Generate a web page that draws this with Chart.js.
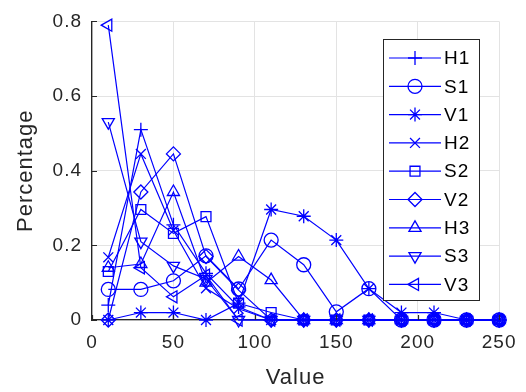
<!DOCTYPE html>
<html>
<head>
<meta charset="utf-8">
<script src="https://cdn.jsdelivr.net/npm/chart.js@4/dist/chart.umd.min.js"></script>
<style>
body{margin:0;background:#fff;}
</style>
</head>
<body>
<canvas id="myChart" width="526" height="392"></canvas>
<script>
// x positions (Value) shared by all series
var xValues = [10, 30, 50, 70, 90, 110, 130, 150, 170, 190, 210, 230, 250];
var xTicks = [0, 50, 100, 150, 200, 250];
var yTicks = [0, 0.2, 0.4, 0.6, 0.8];

var seriesNames = ["H1", "S1", "V1", "H2", "S2", "V2", "H3", "S3", "V3"];

var H1 = [0.04, 0.51, 0.255, 0.125, 0.035, 0, 0, 0, 0, 0, 0, 0, 0];
var S1 = [0.082, 0.082, 0.105, 0.172, 0.083, 0.214, 0.148, 0.022, 0.084, 0, 0, 0, 0];
var V1 = [0, 0.02, 0.02, 0, 0.045, 0.296, 0.278, 0.214, 0.084, 0.02, 0.02, 0, 0];
var H2 = [0.168, 0.445, 0.24, 0.085, 0.03, 0, 0, 0, 0, 0, 0, 0, 0];
var S2 = [0.13, 0.296, 0.232, 0.277, 0.045, 0.02, 0, 0, 0, 0, 0, 0, 0];
var V2 = [0, 0.343, 0.445, 0.17, 0.08, 0, 0, 0, 0, 0, 0, 0, 0];
var H3 = [0.14, 0.15, 0.343, 0.1, 0.17, 0.107, 0, 0, 0, 0, 0, 0, 0];
var S3 = [0.53, 0.21, 0.145, 0.11, 0, 0, 0, 0, 0, 0, 0, 0, 0];
var V3 = [0.79, 0.14, 0.062, 0.12, 0, 0, 0, 0, 0, 0, 0, 0, 0];

var seriesValues = [H1, S1, V1, H2, S2, V2, H3, S3, V3];
var markerStyles = ["cross", "circle", "star", "crossRot", "rect", "rectRot", "triangle", "triangle", "triangle"];
var markerRotation = [0, 0, 0, 0, 0, 0, 0, 180, 270];

var blue = "#0000ff";
var dark = "#262626";
var spacing = "1px";

function toPoints(values)
{
	var pts = [];
	for (var i = 0; i < xValues.length; i++)
	{
		pts.push({x: xValues[i], y: values[i]});
	}
	return pts;
}

var datasets = [];
for (var i = 0; i < seriesNames.length; i++)
{
	datasets.push({
		label: seriesNames[i],
		data: toPoints(seriesValues[i]),
		borderColor: blue,
		borderWidth: 1.2,
		pointStyle: markerStyles[i],
		rotation: markerRotation[i],
		pointRadius: 7,
		pointHoverRadius: 7,
		pointBorderWidth: 1.3,
		pointBorderColor: blue,
		pointBackgroundColor: "rgba(0,0,0,0)",
		fill: false,
		tension: 0,
		clip: false
	});
}

// slightly wider text, like the MATLAB rendering
var textSpacing = {
	id: "textSpacing",
	beforeDraw: function(chart)
	{
		chart.ctx.letterSpacing = spacing;
	}
};

// MATLAB style ticks drawn inward
var innerTicks = {
	id: "innerTicks",
	afterDraw: function(chart)
	{
		var ctx = chart.ctx;
		var xs = chart.scales.x, ys = chart.scales.y;
		var area = chart.chartArea;
		ctx.save();
		ctx.strokeStyle = dark;
		ctx.lineWidth = 1.2;
		ctx.beginPath();
		for (var i = 0; i < yTicks.length; i++)
		{
			var py = Math.round(ys.getPixelForValue(yTicks[i])) + 0.5;
			ctx.moveTo(area.left, py);
			ctx.lineTo(area.left + 5, py);
		}
		for (var j = 0; j < xTicks.length; j++)
		{
			var px = Math.round(xs.getPixelForValue(xTicks[j])) + 0.5;
			ctx.moveTo(px, area.bottom);
			ctx.lineTo(px, area.bottom - 5);
		}
		ctx.stroke();
		ctx.restore();
	}
};

// legend box inside the axes, line + marker + name
var legendBox = {
	id: "legendBox",
	afterDraw: function(chart)
	{
		var ctx = chart.ctx;
		var left = 383.5, top = 39.5, w = 96, h = 261;
		ctx.save();
		ctx.fillStyle = "#ffffff";
		ctx.fillRect(left, top, w, h);
		ctx.strokeStyle = dark;
		ctx.lineWidth = 1;
		ctx.strokeRect(left, top, w, h);

		for (var i = 0; i < seriesNames.length; i++)
		{
			var y = 58 + i * 28.3;
			ctx.strokeStyle = blue;
			ctx.lineWidth = 1.2;
			ctx.beginPath();
			ctx.moveTo(389, y);
			ctx.lineTo(441, y);
			ctx.stroke();

			ctx.fillStyle = "rgba(0,0,0,0)";
			ctx.lineWidth = 1.3;
			if (Chart.helpers && Chart.helpers.drawPoint)
			{
				Chart.helpers.drawPoint(ctx, {pointStyle: markerStyles[i], rotation: markerRotation[i], radius: 7, borderWidth: 1.3}, 415, y);
			}

			ctx.fillStyle = "#000000";
			ctx.font = "19px 'Liberation Sans', Arial, sans-serif";
			ctx.letterSpacing = "1px";
			ctx.textBaseline = "middle";
			ctx.textAlign = "left";
			ctx.fillText(seriesNames[i], 444, y + 1);
		}
		ctx.restore();
	}
};

var tickFont = {family: "'Liberation Sans', Arial, sans-serif", size: 19};
var titleFont = {family: "'Liberation Sans', Arial, sans-serif", size: 22};

var myChart = new Chart(document.getElementById("myChart").getContext("2d"), {
	type: "line",
	data: {datasets: datasets},
	plugins: [textSpacing, innerTicks, legendBox],
	options: {
		responsive: false,
		animation: false,
		events: [],
		layout: {padding: {top: 17, right: 21, left: 0, bottom: 0}},
		plugins: {
			legend: {display: false},
			tooltip: {enabled: false}
		},
		scales: {
			x: {
				type: "linear",
				min: 0,
				max: 250,
				afterFit: function(scale) { scale.height = 72; },
				afterBuildTicks: function(scale) { scale.ticks = xTicks.map(function(v) { return {value: v}; }); },
				ticks: {color: dark, font: tickFont, padding: 11, maxRotation: 0},
				grid: {color: "#e3e3e3", lineWidth: 1, drawTicks: false},
				border: {display: true, color: dark, width: 1.3},
				title: {display: true, text: "Value", color: dark, font: titleFont, padding: {top: 4, bottom: 1}}
			},
			y: {
				type: "linear",
				min: 0,
				max: 0.8,
				afterFit: function(scale) { scale.width = 92; },
				afterBuildTicks: function(scale) { scale.ticks = yTicks.map(function(v) { return {value: v}; }); },
				ticks: {color: dark, font: tickFont, padding: 10, callback: function(v) { return String(Math.round(v * 10) / 10); }},
				grid: {color: "#e3e3e3", lineWidth: 1, drawTicks: false},
				border: {display: true, color: dark, width: 1.3},
				title: {display: true, text: "Percentage", color: dark, font: titleFont, padding: {top: 13, bottom: 0}}
			}
		}
	}
});
</script>
</body>
</html>
